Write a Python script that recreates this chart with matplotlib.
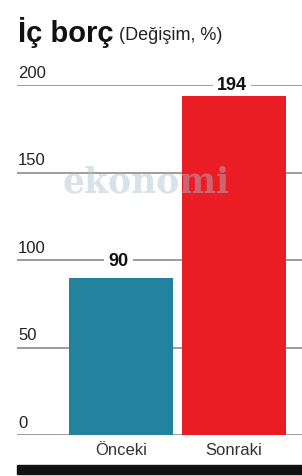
import matplotlib.pyplot as plt
from matplotlib.patches import Rectangle
from matplotlib import font_manager

categories = ["Önceki", "Sonraki"]
values = [90, 194]
bar_colors = ["#23829f", "#ea1c24"]
yticks = [0, 50, 100, 150, 200]

names = {f.name for f in font_manager.fontManager.ttflist}
narrow = "Liberation Sans Narrow" if "Liberation Sans Narrow" in names else "Liberation Sans"
plt.rcParams["font.family"] = [narrow, "DejaVu Sans"]

fig = plt.figure(figsize=(3.02, 4.77), dpi=100)
ax = fig.add_axes([17 / 302, 41 / 477, 285 / 302, 350 / 477])

x = list(range(len(categories)))
ax.bar(x, values, width=0.92, color=bar_colors, zorder=3)

# gridlines with tick labels sitting above them at the left
for t in yticks:
    ax.axhline(t, color="#8c8c8c", lw=1.2, zorder=1)
    ax.text(-0.91, t + 3, str(t), fontsize=12, color="#222222",
            ha="left", va="bottom", zorder=4)

# value labels breaking the gridline
for xi, v in zip(x, values):
    lab_y = 100 if v < 100 else 200
    ax.text(xi - 0.02, lab_y, str(v), fontsize=13, fontweight="bold",
            color="#111111", ha="center", va="center", zorder=2,
            bbox=dict(facecolor="white", edgecolor="none", pad=3))

ax.set_xlim(-0.92, 1.602)
ax.set_ylim(0, 200)
ax.axis("off")

for xi, c in zip(x, categories):
    ax.text(xi, -4, c, fontsize=12, color="#333333", ha="center", va="top")

# watermark
ax.text(-0.52, 145, "ekonomi", family="DejaVu Serif", fontweight="bold",
        fontsize=25, color="#a9bfcd", alpha=0.45, ha="left", va="center",
        zorder=6)

# title
fig.text(18 / 302, 1 - 42 / 477, "İç borç", fontsize=21, fontweight="bold",
         color="#111111", ha="left", va="baseline")
fig.text(119 / 302, 1 - 40 / 477, "(Değişim, %)", fontsize=13,
         color="#222222", ha="left", va="baseline")

# thick black rule at bottom
fig.add_artist(Rectangle((17 / 302, 2 / 477), 285 / 302, 9 / 477,
                         transform=fig.transFigure, color="#111111"))

fig.savefig("out.png", dpi=100)
